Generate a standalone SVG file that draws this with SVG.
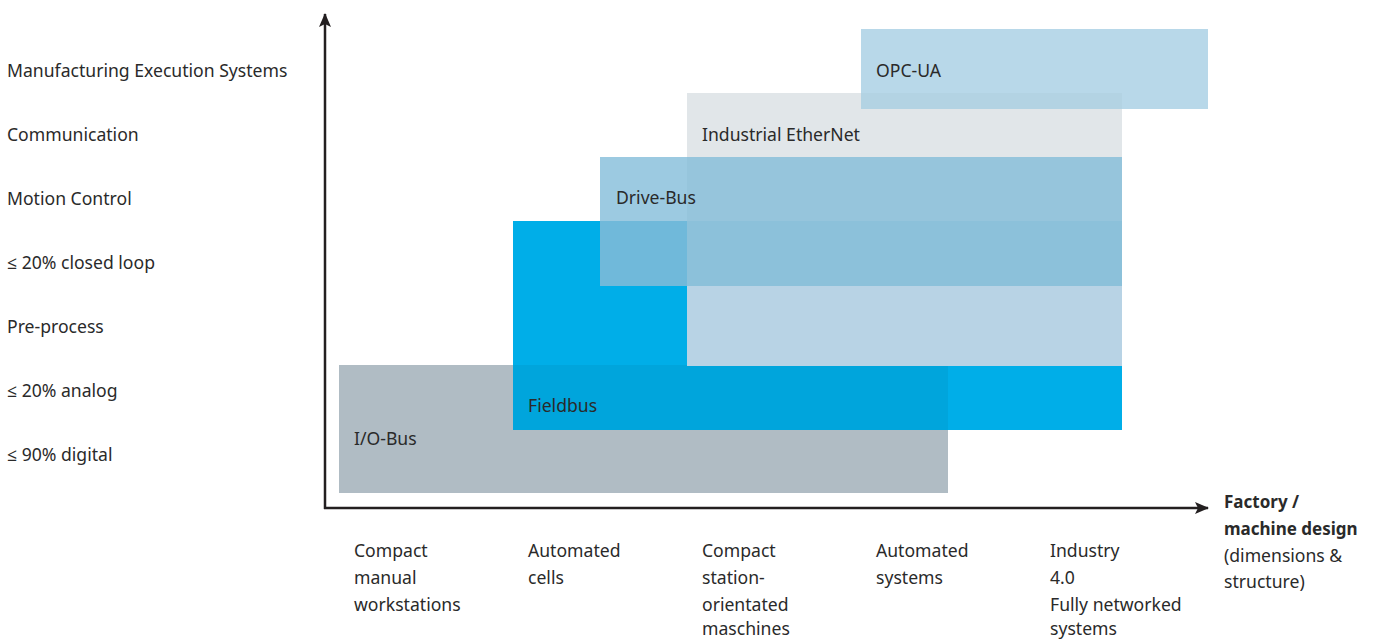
<svg xmlns="http://www.w3.org/2000/svg" width="1375" height="639" viewBox="0 0 1375 639">
<defs>
<style>
text{font-family:"Noto Sans","Open Sans","Liberation Sans",sans-serif;font-size:17.6px;fill:#2a2a2a}
.b{font-weight:bold;font-size:17px}
.ax{stroke:#231f20;stroke-width:2.5;fill:none}
</style>
<marker id="ah" markerWidth="14" markerHeight="12" refX="13" refY="6" orient="auto" markerUnits="userSpaceOnUse">
<path d="M0,0 L14,6 L0,12 L3,6 Z" fill="#231f20"/>
</marker>
</defs>
<rect width="1375" height="639" fill="#fff"/>
<g id="y-labels">
<text x="7" y="76.5">Manufacturing Execution Systems</text>
<text x="7" y="140.5">Communication</text>
<text x="7" y="204.5">Motion Control</text>
<text x="7" y="268.5">≤ 20% closed loop</text>
<text x="7" y="332.5">Pre-process</text>
<text x="7" y="396.5">≤ 20% analog</text>
<text x="7" y="460.5">≤ 90% digital</text>
</g>
<g id="io-bus">
<rect x="339" y="365" width="609" height="128" fill="#b0bcc4"/>
<text x="354" y="444.5">I/O-Bus</text>
</g>
<g id="fieldbus">
<rect x="513" y="221" width="609" height="209" fill="#00aee8"/>
<rect x="513" y="365" width="435" height="65" fill="#00a5dc"/>
<text x="528" y="411.5">Fieldbus</text>
</g>
<g id="industrial-ethernet">
<rect x="687" y="93" width="435" height="273" fill="#e1e6e9"/>
<rect x="687" y="221" width="435" height="145" fill="#b8d3e5"/>
<text x="702" y="140.5">Industrial EtherNet</text>
</g>
<g id="drive-bus">
<rect x="600" y="157" width="522" height="129" fill="#9ccae1"/>
<rect x="687" y="157" width="435" height="64" fill="#96c5dc"/>
<rect x="600" y="221" width="87" height="65" fill="#70b9da"/>
<rect x="687" y="221" width="435" height="65" fill="#8cc1da"/>
<text x="616" y="203.5">Drive-Bus</text>
</g>
<g id="opc-ua">
<rect x="861" y="29" width="347" height="80" fill="#b8d8e9"/>
<rect x="861" y="93" width="261" height="16" fill="#b3d3e3"/>
<text x="876" y="76.5">OPC-UA</text>
</g>
<g id="connectors">
<line class="ax" x1="325" y1="509" x2="325" y2="14" marker-end="url(#ah)"/>
<line class="ax" x1="324" y1="508" x2="1208" y2="508" marker-end="url(#ah)"/>
</g>
<g id="x-labels">
<text x="354" y="556.5">Compact</text>
<text x="354" y="583.5">manual</text>
<text x="354" y="610.5">workstations</text>
<text x="528" y="556.5">Automated</text>
<text x="528" y="583.5">cells</text>
<text x="702" y="556.5">Compact</text>
<text x="702" y="583.5">station-</text>
<text x="702" y="610.5">orientated</text>
<text x="702" y="635">maschines</text>
<text x="876" y="556.5">Automated</text>
<text x="876" y="583.5">systems</text>
<text x="1050" y="556.5">Industry</text>
<text x="1050" y="583.5">4.0</text>
<text x="1050" y="610.5">Fully networked</text>
<text x="1050" y="635">systems</text>
</g>
<g id="axis-title">
<text class="b" x="1224" y="508">Factory /</text>
<text class="b" x="1224" y="535">machine design</text>
<text x="1224" y="561.5">(dimensions &amp;</text>
<text x="1224" y="588">structure)</text>
</g>
</svg>
